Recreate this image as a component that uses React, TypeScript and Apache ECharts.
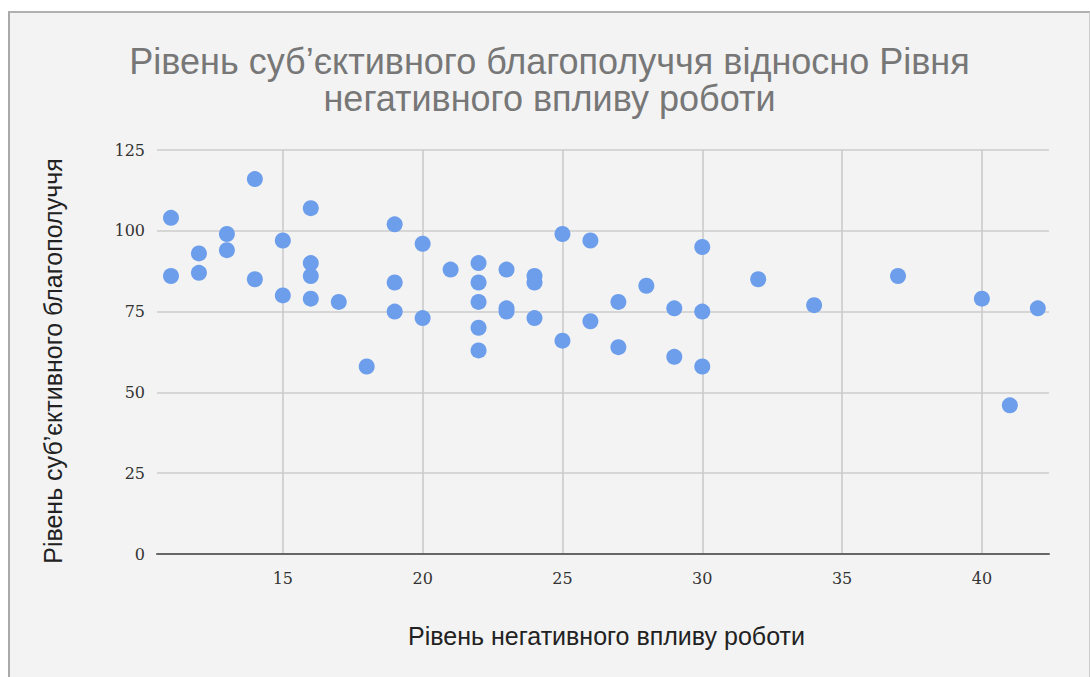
import React, { useEffect, useRef } from "react";
import * as echarts from "echarts";

const titleText = "Рівень суб’єктивного благополуччя відносно Рівня\nнегативного впливу роботи";
const xAxisName = "Рівень негативного впливу роботи";
const yAxisName = "Рівень суб’єктивного благополуччя";

const negativeImpact = [
  11, 11, 12, 12, 13, 13, 14, 14, 15, 15, 16, 16, 16, 16, 17, 18, 19, 19, 19, 20, 20, 21,
  22, 22, 22, 22, 22, 23, 23, 23, 24, 24, 24, 25, 25, 26, 26, 27, 27, 28, 29, 29, 30, 30,
  30, 32, 34, 37, 40, 41, 42,
];
const wellbeing = [
  104, 86, 93, 87, 99, 94, 116, 85, 97, 80, 107, 90, 86, 79, 78, 58, 102, 84, 75, 96, 73, 88,
  90, 84, 78, 70, 63, 88, 76, 75, 86, 84, 73, 99, 66, 97, 72, 78, 64, 83, 76, 61, 95, 75,
  58, 85, 77, 86, 79, 46, 76,
];
const xTicks = [15, 20, 25, 30, 35, 40];
const xMin = 10.5;
const xMax = 42.4;
const yMin = 0;
const yMax = 125;
const yStep = 25;

export default function App() {
  const ref = useRef<HTMLDivElement>(null);
  useEffect(() => {
    if (!ref.current) return;
    const chart = echarts.init(ref.current, undefined, { renderer: "svg" });
    const points = negativeImpact.map((x, i) => [x, wellbeing[i]]);
    chart.setOption({
      animation: false,
      backgroundColor: "#f3f3f3",
      title: {
        text: titleText,
        left: "center",
        top: 25,
        textStyle: {
          fontFamily: "Liberation Sans, Arial, sans-serif",
          fontSize: 36,
          lineHeight: 37,
          fontWeight: "normal",
          color: "#777777",
        },
      },
      grid: { left: 147, top: 137, width: 892, height: 404 },
      xAxis: {
        type: "value",
        min: xMin,
        max: xMax,
        name: xAxisName,
        nameLocation: "middle",
        nameGap: 69,
        nameTextStyle: {
          fontFamily: "Liberation Sans, Arial, sans-serif",
          fontSize: 25,
          color: "#222222",
          padding: [0, 0, 0, 7],
        },
        axisLine: { show: true, lineStyle: { color: "#666666", width: 2 } },
        axisTick: { show: false, customValues: xTicks },
        axisLabel: {
          customValues: xTicks,
          margin: 16,
          fontFamily: "DejaVu Serif, serif",
          fontSize: 16,
          color: "#333333",
        },
        splitLine: { show: true, lineStyle: { color: "#c8c8c8", width: 1.5 } },
      },
      yAxis: {
        type: "value",
        min: yMin,
        max: yMax,
        interval: yStep,
        name: yAxisName,
        nameLocation: "middle",
        nameGap: 92,
        nameTextStyle: {
          fontFamily: "Liberation Sans, Arial, sans-serif",
          fontSize: 25,
          color: "#222222",
          padding: [0, 18, 0, 0],
        },
        axisLine: { show: false },
        axisTick: { show: false },
        axisLabel: {
          margin: 12,
          fontFamily: "DejaVu Serif, serif",
          fontSize: 16,
          color: "#333333",
        },
        splitLine: { show: true, lineStyle: { color: "#d6d6d6", width: 2 } },
      },
      series: [
        {
          type: "scatter",
          data: points,
          symbol: "circle",
          symbolSize: 16,
          itemStyle: { color: "#6d9eeb", opacity: 1 },
        },
      ],
    });
    return () => chart.dispose();
  }, []);

  return (
    <div
      style={{
        position: "fixed",
        left: 8,
        top: 11,
        width: 1082,
        height: 680,
        boxSizing: "border-box",
        borderLeft: "2px solid #a9a9a9",
        borderTop: "2px solid #b0b0b0",
        borderRight: "1px solid #cccccc",
        background: "#f3f3f3",
        overflow: "hidden",
      }}
    >
      <div ref={ref} style={{ width: 1079, height: 678 }} />
    </div>
  );
}
